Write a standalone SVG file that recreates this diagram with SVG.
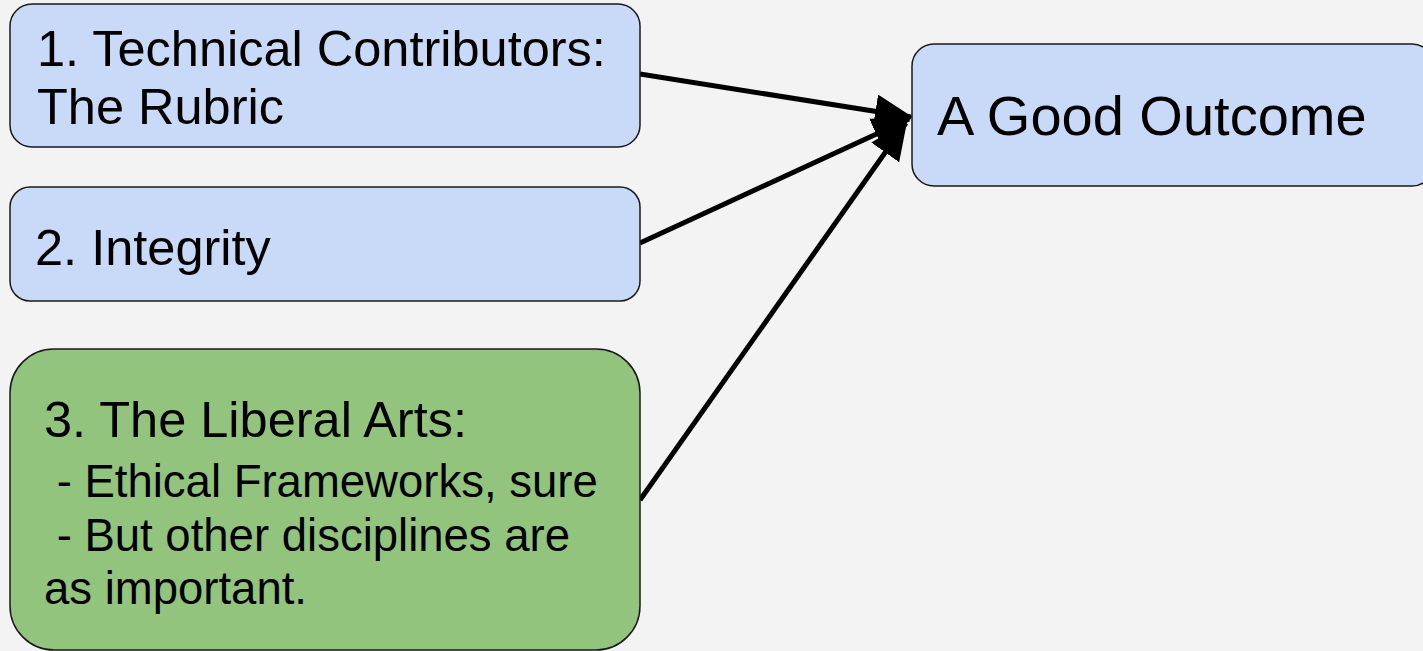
<svg xmlns="http://www.w3.org/2000/svg" width="1423" height="651" viewBox="0 0 1423 651">
  <style>
    .box { stroke: #1a1a1a; stroke-width: 1.5; }
    .blue { fill: #c9daf8; }
    .green { fill: #93c47d; }
    .label { font-family: "Liberation Sans", Arial, sans-serif; fill: #000; }
    .edge { stroke: #000; stroke-width: 5; fill: none; }
  </style>
  <defs>
    <marker id="arrow" markerUnits="userSpaceOnUse" markerWidth="38" markerHeight="34" refX="36" refY="17" orient="auto">
      <path d="M0,0 L38,17 L0,34 Z" fill="#000"/>
    </marker>
  </defs>
  <rect width="1423" height="651" fill="#f3f3f3"/>

  <g id="connectors">
    <line class="edge" x1="640" y1="74" x2="911" y2="117" marker-end="url(#arrow)"/>
    <line class="edge" x1="640" y1="243" x2="909" y2="119" marker-end="url(#arrow)"/>
    <line class="edge" x1="640" y1="500" x2="906" y2="123" marker-end="url(#arrow)"/>
  </g>

  <g id="node-technical">
    <rect class="box blue" x="10" y="4" width="630" height="143" rx="22"/>
    <text class="label" font-size="50.5" x="37" y="66">1. Technical Contributors:</text>
    <text class="label" font-size="50.5" x="37" y="124">The Rubric</text>
  </g>

  <g id="node-integrity">
    <rect class="box blue" x="10" y="187" width="630" height="114" rx="20"/>
    <text class="label" font-size="50.5" x="35" y="265">2. Integrity</text>
  </g>

  <g id="node-liberal-arts">
    <rect class="box green" x="10" y="349" width="630" height="301" rx="44"/>
    <text class="label" font-size="50.5" x="44" y="437">3. The Liberal Arts:</text>
    <text class="label" font-size="45.5" x="44" y="497" xml:space="preserve"> - Ethical Frameworks, sure</text>
    <text class="label" font-size="45.5" x="44" y="551" xml:space="preserve"> - But other disciplines are</text>
    <text class="label" font-size="45.5" x="44" y="604">as important.</text>
  </g>

  <g id="node-outcome">
    <rect class="box blue" x="912" y="44" width="522" height="142" rx="22"/>
    <text class="label" font-size="56" x="937" y="135">A Good Outcome</text>
  </g>
</svg>
